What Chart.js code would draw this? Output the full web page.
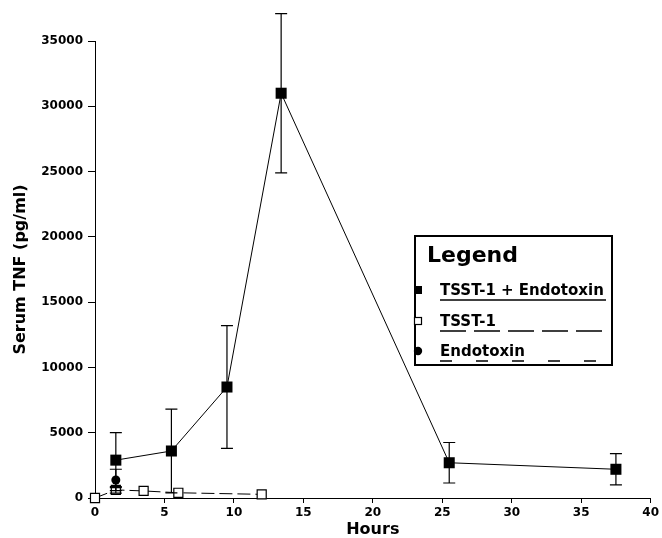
<!DOCTYPE html>
<html>
<head>
<meta charset="utf-8">
<script src="https://cdn.jsdelivr.net/npm/chart.js@4.4.0/dist/chart.umd.min.js"></script>
<style>
  html, body { margin: 0; padding: 0; background: #fff; }
  #wrap { width: 662px; height: 538px; }
</style>
</head>
<body>
<div id="wrap"><canvas id="tnfChart" width="662" height="538"></canvas></div>
<script>
// TSST-1 + Endotoxin
const comboHours = [1.5, 5.5, 9.5, 13.4, 25.5, 37.5];
const comboTNF = [2900, 3600, 8500, 31000, 2700, 2200];
const comboErr = [2100, 3200, 4700, 6100, 1550, 1200];

// TSST-1 alone
const tsstHours = [0, 1.5, 3.5, 6, 12];
const tsstTNF = [0, 620, 540, 400, 280];
const tsstErr = [0, 250, 0, 0, 0];

// Endotoxin alone
const endoHours = [1.5];
const endoTNF = [1380];
const endoErr = [820];

const xTicks = [0, 5, 10, 15, 20, 25, 30, 35, 40];
const yTicks = [0, 5000, 10000, 15000, 20000, 25000, 30000, 35000];

const FONT = "'DejaVu Sans', 'Liberation Sans', sans-serif";

function points(xs, ys) {
    return xs.map((x, i) => ({ x: x, y: ys[i] }));
}

// vertical error bars with caps
const errorBars = {
    id: 'errorBars',
    afterDatasetsDraw(chart) {
        const ctx = chart.ctx;
        const yScale = chart.scales.y;
        ctx.save();
        ctx.strokeStyle = '#000';
        ctx.lineWidth = 1.2;
        chart.data.datasets.forEach((ds, i) => {
            if (!ds.errors) return;
            const meta = chart.getDatasetMeta(i);
            meta.data.forEach((pt, j) => {
                const e = ds.errors[j];
                if (!e) return;
                const v = ds.data[j].y;
                const top = yScale.getPixelForValue(v + e);
                const bot = yScale.getPixelForValue(v - e);
                ctx.beginPath();
                ctx.moveTo(pt.x, top); ctx.lineTo(pt.x, bot);
                ctx.moveTo(pt.x - 6, top); ctx.lineTo(pt.x + 6, top);
                ctx.moveTo(pt.x - 6, bot); ctx.lineTo(pt.x + 6, bot);
                ctx.stroke();
            });
        });
        ctx.restore();
    }
};

// boxed legend with underlined entries, like the original figure
const boxLegend = {
    id: 'boxLegend',
    afterDraw(chart, args, opts) {
        const ctx = chart.ctx;
        ctx.save();
        ctx.strokeStyle = '#000';
        ctx.fillStyle = '#000';
        ctx.lineWidth = 2;
        ctx.strokeRect(opts.x, opts.y, opts.w, opts.h);

        ctx.textBaseline = 'alphabetic';
        ctx.textAlign = 'left';
        ctx.font = 'bold 22px ' + FONT;
        ctx.fillText('Legend', opts.x + 12, opts.y + 26);

        ctx.font = 'bold 15px ' + FONT;
        chart.data.datasets.forEach((ds, i) => {
            const cy = opts.rows[i];
            const mx = opts.x + 3;
            ctx.lineWidth = 1.2;
            ctx.setLineDash([]);
            if (ds.pointStyle === 'circle') {
                ctx.beginPath();
                ctx.arc(mx, cy, 4.2, 0, Math.PI * 2);
                ctx.fillStyle = '#000';
                ctx.fill();
            } else if (ds.pointBackgroundColor === '#fff') {
                ctx.fillStyle = '#fff';
                ctx.fillRect(mx - 3.5, cy - 3.5, 7, 7);
                ctx.strokeRect(mx - 3.5, cy - 3.5, 7, 7);
            } else {
                ctx.fillStyle = '#000';
                ctx.fillRect(mx - 4, cy - 4, 8, 8);
            }
            ctx.fillStyle = '#000';
            ctx.fillText(ds.label, opts.x + 25, cy + 5);

            ctx.lineWidth = 1.5;
            ctx.setLineDash(opts.underline[i]);
            ctx.beginPath();
            ctx.moveTo(opts.x + 25, cy + 10);
            ctx.lineTo(opts.x + opts.w - 6, cy + 10);
            ctx.stroke();
        });
        ctx.restore();
    }
};

const ctx = document.getElementById('tnfChart').getContext('2d');
new Chart(ctx, {
    type: 'scatter',
    data: {
        datasets: [{
            label: 'TSST-1 + Endotoxin',
            data: points(comboHours, comboTNF),
            errors: comboErr,
            showLine: true,
            borderColor: '#000',
            borderWidth: 1,
            pointStyle: 'rect',
            pointRadius: 7.8,
            pointBackgroundColor: '#000',
            pointBorderColor: '#000',
            pointBorderWidth: 0,
            clip: false
        }, {
            label: 'TSST-1',
            data: points(tsstHours, tsstTNF),
            errors: tsstErr,
            showLine: true,
            borderColor: '#000',
            borderWidth: 1,
            borderDash: [13, 5],
            pointStyle: 'rect',
            pointRadius: 6.4,
            pointBackgroundColor: '#fff',
            pointBorderColor: '#000',
            pointBorderWidth: 1.2,
            clip: false
        }, {
            label: 'Endotoxin',
            data: points(endoHours, endoTNF),
            errors: endoErr,
            showLine: true,
            borderColor: '#000',
            borderWidth: 1,
            borderDash: [12, 24],
            pointStyle: 'circle',
            pointRadius: 4.5,
            pointBackgroundColor: '#000',
            pointBorderColor: '#000',
            pointBorderWidth: 0,
            clip: false
        }]
    },
    options: {
        responsive: false,
        devicePixelRatio: 1,
        animation: false,
        layout: { padding: { left: 0, top: 41, right: 9, bottom: 0 } },
        plugins: {
            legend: { display: false },
            tooltip: { enabled: false },
            boxLegend: {
                x: 415, y: 236, w: 197, h: 129,
                rows: [290, 321, 351],
                underline: [[], [26, 8], [12, 24]]
            }
        },
        scales: {
            x: {
                type: 'linear',
                min: 0,
                max: 40,
                afterBuildTicks: s => { s.ticks = xTicks.map(v => ({ value: v })); },
                afterFit: s => { s.height = 40; },
                border: { display: true, color: '#000', width: 1 },
                grid: { display: true, drawOnChartArea: false, drawTicks: true, tickLength: 5, color: '#000' },
                ticks: {
                    color: '#000',
                    padding: 3,
                    maxRotation: 0,
                    font: { family: FONT, size: 12, weight: 'bold' },
                    callback: v => v
                },
                title: {
                    display: true,
                    text: 'Hours',
                    color: '#000',
                    padding: { top: 0, bottom: 0 },
                    font: { family: FONT, size: 16, weight: 'bold', lineHeight: 1 }
                }
            },
            y: {
                type: 'linear',
                min: 0,
                max: 35000,
                afterBuildTicks: s => { s.ticks = yTicks.map(v => ({ value: v })); },
                afterFit: s => { s.width = 95; },
                border: { display: true, color: '#000', width: 1 },
                grid: { display: true, drawOnChartArea: false, drawTicks: true, tickLength: 7, color: '#000' },
                ticks: {
                    color: '#000',
                    padding: 5,
                    font: { family: FONT, size: 12, weight: 'bold' },
                    callback: v => v
                },
                title: {
                    display: true,
                    text: 'Serum TNF (pg/ml)',
                    color: '#000',
                    padding: { top: 11, bottom: 0 },
                    font: { family: FONT, size: 16, weight: 'bold', lineHeight: 1.2 }
                }
            }
        }
    },
    plugins: [errorBars, boxLegend]
});
</script>
</body>
</html>
